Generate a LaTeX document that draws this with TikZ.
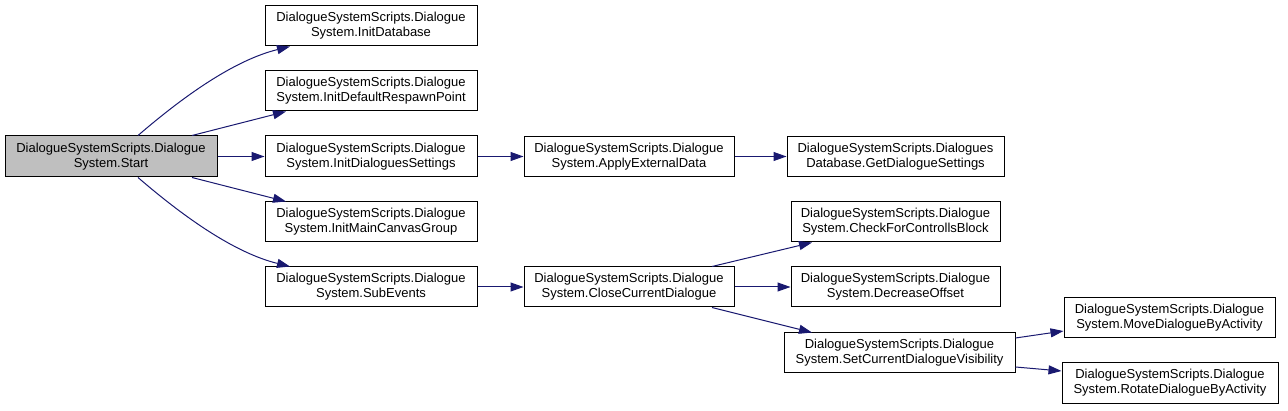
\documentclass[tikz,border=0pt]{standalone}
\usepackage{fontspec}
\setmainfont{Liberation Sans}
\usetikzlibrary{arrows.meta}
\definecolor{edgeblue}{HTML}{191970}
\definecolor{startgray}{HTML}{BFBFBF}
\begin{document}
\begin{tikzpicture}[x=1pt,y=-1pt,
  fn/.style={draw=black,line width=1pt,fill=white,inner sep=0pt,align=center,
    font=\fontsize{13pt}{15pt}\selectfont,minimum height=40pt},
  call/.style={draw=edgeblue,line width=1pt,-{Triangle[length=13pt,width=9pt]}}]
\useasboundingbox (0,0) rectangle (1288,411);
\node[fn,fill=startgray,minimum width=212pt,minimum height=41pt] (start) at (111,156.5) {DialogueSystemScripts.Dialogue\\System.Start};
\node[fn,minimum width=212pt] (initdb) at (371,26) {DialogueSystemScripts.Dialogue\\System.InitDatabase};
\node[fn,minimum width=212pt] (idrp) at (371,91) {DialogueSystemScripts.Dialogue\\System.InitDefaultRespawnPoint};
\node[fn,minimum width=212pt,minimum height=41pt] (ids) at (371,156.5) {DialogueSystemScripts.Dialogue\\System.InitDialoguesSettings};
\node[fn,minimum width=212pt] (imcg) at (371,222) {DialogueSystemScripts.Dialogue\\System.InitMainCanvasGroup};
\node[fn,minimum width=212pt] (sub) at (371,287) {DialogueSystemScripts.Dialogue\\System.SubEvents};
\node[fn,minimum width=210pt] (apply) at (629,156.5) {DialogueSystemScripts.Dialogue\\System.ApplyExternalData};
\node[fn,minimum width=217pt] (gds) at (895.5,156.5) {DialogueSystemScripts.Dialogues\\Database.GetDialogueSettings};
\node[fn,minimum width=209pt] (cfcb) at (895.5,222) {DialogueSystemScripts.Dialogue\\System.CheckForControllsBlock};
\node[fn,minimum width=210pt] (ccd) at (629,287) {DialogueSystemScripts.Dialogue\\System.CloseCurrentDialogue};
\node[fn,minimum width=209pt] (dec) at (895.5,287) {DialogueSystemScripts.Dialogue\\System.DecreaseOffset};
\node[fn,minimum width=231pt] (scdv) at (899.5,353) {DialogueSystemScripts.Dialogue\\System.SetCurrentDialogueVisibility};
\node[fn,minimum width=211pt] (move) at (1169.5,318) {DialogueSystemScripts.Dialogue\\System.MoveDialogueByActivity};
\node[fn,minimum width=216pt,minimum height=41pt] (rotate) at (1170,383) {DialogueSystemScripts.Dialogue\\System.RotateDialogueByActivity};
\draw[call] ([xshift=27pt]start.north) .. controls (185,95) and (235,60) .. ([xshift=-81pt]initdb.south);
\draw[call] ([xshift=81pt]start.north) -- ([xshift=-85pt]idrp.south);
\draw[call] (start.east) -- (ids.west);
\draw[call] ([xshift=81pt]start.south) -- ([xshift=-85pt]imcg.north);
\draw[call] ([xshift=27pt]start.south) .. controls (185,218) and (235,253) .. ([xshift=-81pt]sub.north);
\draw[call] (ids.east) -- (apply.west);
\draw[call] (apply.east) -- (gds.west);
\draw[call] (sub.east) -- (ccd.west);
\draw[call] ([xshift=83pt]ccd.north) -- ([xshift=-83.5pt]cfcb.south);
\draw[call] (ccd.east) -- (dec.west);
\draw[call] ([xshift=83pt]ccd.south) -- ([xshift=-87.5pt]scdv.north);
\draw[call] ([yshift=15pt]scdv.east) -- ([yshift=-13pt]move.west);
\draw[call] ([yshift=-14pt]scdv.east) -- ([yshift=12pt]rotate.west);
\end{tikzpicture}
\end{document}
